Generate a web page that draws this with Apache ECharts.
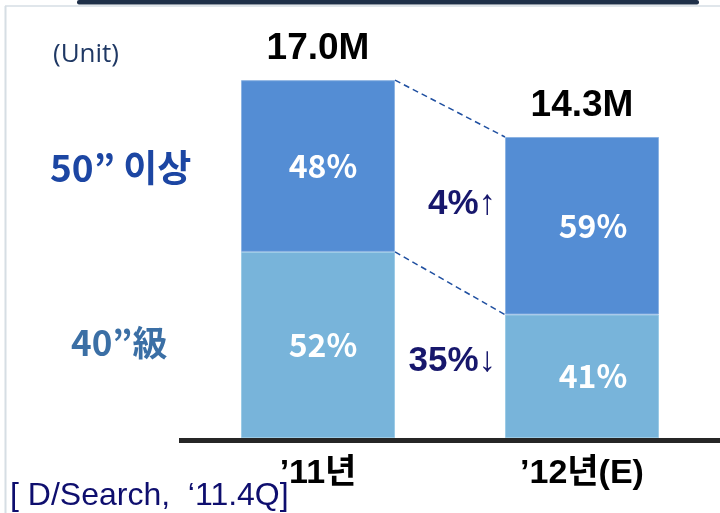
<!DOCTYPE html>
<html>
<head>
<meta charset="utf-8">
<script src="https://cdn.jsdelivr.net/npm/echarts@6/dist/echarts.min.js"></script>
<style>
  html, body { margin: 0; padding: 0; background: #ffffff; }
  #chart { width: 720px; height: 513px; }
</style>
</head>
<body>
<div id="chart"></div>
<script>
// TV shipments by screen size, 2011 vs 2012 forecast (millions of units)
const categories = ['\u201911\ub144', '\u201912\ub144(E)'];
const totals = [17.0, 14.3];            // total units, M
const share50 = [48, 59];               // 50" and larger, % of total
const share40 = [52, 41];               // 40" class, % of total
const changeLabels = ['4%\u2191', '35%\u2193'];
const segmentNames = ['50\u201d \uc774\uc0c1', '40\u201d\u7d1a'];
const sourceNote = '[ D/Search,  \u201811.4Q]';
const unitNote = '(Unit)';

// absolute values of each stacked segment
const val40 = totals.map((t, i) => t * share40[i] / 100);
const val50 = totals.map((t, i) => t * share50[i] / 100);

const BAR_W = 154;
const LATIN = "'Liberation Sans', Arial, 'Noto Sans CJK KR', sans-serif";
const CJK = "'Noto Sans CJK KR', 'Noto Sans', sans-serif";
const labelShift = [5, 11];

const chart = echarts.init(document.getElementById('chart'), null, { renderer: 'canvas' });

const pctItems = (vals, shares) => vals.map((v, i) => ({
  value: v,
  label: { offset: [labelShift[i], 0], formatter: shares[i] + '%' }
}));

chart.setOption({
  animation: false,
  grid: { left: 186, right: 6, top: 17, bottom: 75 },
  xAxis: {
    type: 'category',
    data: categories,
    axisLine: { show: false },
    axisTick: { show: false },
    axisLabel: {
      margin: 19,
      color: '#000000',
      fontFamily: LATIN,
      fontWeight: 'bold',
      fontSize: 34
    }
  },
  yAxis: {
    type: 'value',
    min: 0,
    max: 20,
    show: false
  },
  series: [
    {
      name: segmentNames[1],
      type: 'bar',
      stack: 'tv',
      barWidth: BAR_W,
      data: pctItems(val40, share40),
      itemStyle: { color: '#78b4da', borderColor: '#9ccbe6', borderWidth: 1 },
      label: {
        show: true,
        position: 'inside',
        color: '#ffffff',
        fontFamily: CJK,
        fontWeight: 'bold',
        fontSize: 32
      }
    },
    {
      name: segmentNames[0],
      type: 'bar',
      stack: 'tv',
      barWidth: BAR_W,
      data: pctItems(val50, share50),
      itemStyle: { color: '#548dd4', borderColor: '#8db4e3', borderWidth: 1 },
      label: {
        show: true,
        position: 'inside',
        color: '#ffffff',
        fontFamily: CJK,
        fontWeight: 'bold',
        fontSize: 32
      }
    },
    {
      // year totals above the stacks
      type: 'bar',
      stack: 'tv',
      barWidth: BAR_W,
      data: totals.map(() => 0),
      itemStyle: { color: 'transparent' },
      label: {
        show: true,
        position: 'top',
        distance: 13,
        color: '#000000',
        fontFamily: LATIN,
        fontWeight: 'bold',
        fontSize: 37,
        formatter: p => totals[p.dataIndex].toFixed(1) + 'M'
      }
    },
    {
      // dashed connectors between the segment edges of the two bars
      type: 'custom',
      coordinateSystem: 'cartesian2d',
      encode: { x: [0, 2], y: [1, 3] },
      data: [
        [0, val40[0], 1, val40[1]],
        [0, totals[0], 1, totals[1]]
      ],
      renderItem: (params, api) => {
        const a = api.coord([api.value(0), api.value(1)]);
        const b = api.coord([api.value(2), api.value(3)]);
        return {
          type: 'line',
          shape: { x1: a[0] + BAR_W / 2, y1: a[1], x2: b[0] - BAR_W / 2, y2: b[1] },
          style: { stroke: '#1f4fa0', lineWidth: 1.5, lineDash: [6, 4] }
        };
      },
      z: 5
    }
  ],
  graphic: [
    // slide frame
    { type: 'rect', shape: { x: 77, y: 0, width: 622, height: 4.5, r: 2 }, style: { fill: '#1f3049' } },
    { type: 'line', shape: { x1: 5, y1: 6, x2: 720, y2: 6 }, style: { stroke: '#d6dee4', lineWidth: 1.5 } },
    { type: 'line', shape: { x1: 5.5, y1: 6, x2: 5.5, y2: 513 }, style: { stroke: '#d6dee4', lineWidth: 2 } },
    // baseline
    { type: 'line', shape: { x1: 179, y1: 440.5, x2: 720, y2: 440.5 }, style: { stroke: '#262626', lineWidth: 5 }, z: 10 },
    // left-hand titles
    { type: 'text', x: 86, y: 55, style: { text: unitNote, fill: '#1f3864', font: "26px 'Open Sans', 'Noto Sans', sans-serif", textAlign: 'center', textVerticalAlign: 'middle' } },
    { type: 'text', x: 50, y: 168, style: { text: segmentNames[0], fill: '#1c46a3', font: "bold 37px " + CJK, textAlign: 'left', textVerticalAlign: 'middle' } },
    { type: 'text', x: 71, y: 343, style: { text: segmentNames[1], fill: '#3b6fa5', font: "bold 35px " + CJK, textAlign: 'left', textVerticalAlign: 'middle' } },
    // change annotations
    { type: 'text', x: 496, y: 204, style: { text: changeLabels[0], fill: '#17176c', font: "bold 35px " + LATIN, textAlign: 'right', textVerticalAlign: 'middle' } },
    { type: 'text', x: 496, y: 361, style: { text: changeLabels[1], fill: '#17176c', font: "bold 35px " + LATIN, textAlign: 'right', textVerticalAlign: 'middle' } },
    // source
    { type: 'text', x: 10, y: 496, style: { text: sourceNote, fill: '#0e0e6e', font: "32px " + LATIN, textAlign: 'left', textVerticalAlign: 'middle' } }
  ]
});
</script>
</body>
</html>
